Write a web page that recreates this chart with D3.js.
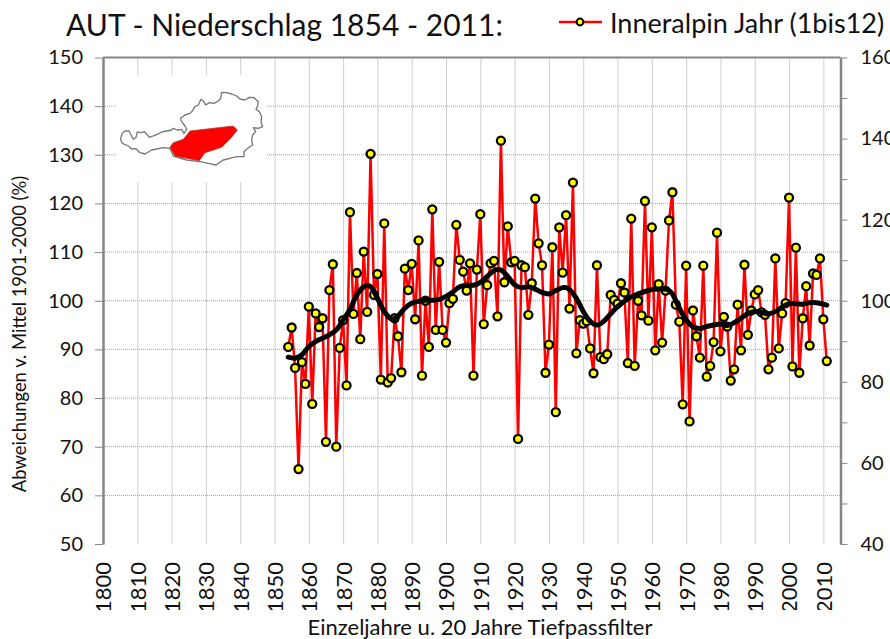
<!DOCTYPE html>
<html><head><meta charset="utf-8">
<script src="https://cdn.jsdelivr.net/npm/d3@7"></script>
<style>html,body{margin:0;padding:0;background:#fff;overflow:hidden}svg{display:block}text{font-family:Lato,"Open Sans",sans-serif;fill:#111}</style>
</head><body><svg id="c" width="890" height="639"></svg>
<script>
const startYear = 1854;
const annual = [90.5,94.5,86.2,65.4,87.4,82.9,98.8,78.8,97.4,94.6,96.4,71.0,102.2,107.5,70.0,90.3,96.0,82.6,118.2,97.3,
105.7,92.1,110.1,97.7,130.2,101.2,105.5,83.8,115.9,83.2,84.1,96.4,92.7,85.3,106.6,102.2,107.6,96.2,112.4,84.6,
100.0,90.5,118.8,94.0,108.0,94.0,91.4,99.5,100.4,115.6,108.4,106.0,102.1,107.7,84.6,106.4,117.8,95.2,103.2,107.7,
108.2,96.8,132.9,103.8,115.3,107.9,108.2,71.6,107.3,106.9,97.1,103.6,121.0,111.8,107.3,85.2,91.0,111.0,77.1,115.1,
105.8,117.6,98.4,124.3,89.2,96.0,95.3,95.8,90.2,85.1,107.3,88.4,88.0,89.0,101.2,100.2,99.4,103.6,101.7,87.2,
116.9,86.6,100.0,97.0,120.5,95.9,115.1,89.8,103.4,91.4,102.1,116.5,122.3,99.2,95.7,78.7,107.2,75.2,98.0,92.7,
88.3,107.2,84.4,86.6,91.5,114.0,89.6,96.7,94.7,83.6,85.9,99.2,89.8,107.4,93.0,98.0,101.3,102.2,97.6,97.1,
85.9,88.3,108.7,90.2,97.4,99.5,121.2,86.5,110.9,85.2,96.4,103.0,90.8,105.6,105.3,108.7,96.2,87.6];
const filterYears = [1854,1856,1858,1860,1862,1864,1866,1868,1870,1872,1874,1876,1877,1878,1880,1882,1884,1885,1886,1888,1890,1892,1894,1896,1898,1900,1902,1904,1906,1908,1910,1912,1914,1915,1916,1918,1920,1922,1924,1926,1928,1930,1932,1934,1935,1936,1938,1940,1942,1944,1946,1948,1950,1952,1954,1956,1958,1960,1962,1964,1965,1966,1968,1970,1972,1974,1976,1978,1980,1982,1984,1986,1988,1990,1992,1994,1996,1998,2000,2002,2004,2006,2008,2010,2011];
const filterValues = [88.4,88.2,88.9,90.6,91.6,92.3,93.0,94.0,96.0,98.2,101.2,102.9,103.2,102.9,100.5,97.8,96.3,96.3,96.8,98.5,99.5,99.9,100.1,100.1,100.3,100.9,101.8,102.9,103.2,103.2,103.8,105.0,106.2,106.4,106.3,105.0,103.3,102.7,102.9,102.4,101.7,101.4,102.1,102.7,102.7,102.3,100.5,97.8,95.8,95.0,95.8,97.3,98.8,99.9,100.8,101.4,101.9,102.3,102.4,102.4,102.1,101.4,98.5,96.1,94.6,94.3,94.7,95.0,95.2,94.9,95.5,96.4,97.4,97.8,97.6,97.3,97.8,98.7,99.4,99.4,99.3,99.6,99.6,99.3,99.1];
const xTicks = d3.range(1800, 2011, 10);
const leftTicks = d3.range(50, 151, 10);
const rightTicks = d3.range(40, 161, 10);
const rightLabels = [40,60,80,100,120,140,160];
const mapOutline = [[93,262],[97,250],[105,243],[117,243],[125,258],[130,268],[138,262],[142,246],[152,248],[163,245],[170,252],[178,262],[190,258],[205,252],[215,246],[230,243],[245,240],[250,235],[262,240],[275,238],[282,250],[290,238],[285,228],[275,215],[272,205],[285,195],[300,190],[308,182],[315,170],[325,165],[333,148],[342,155],[347,165],[358,158],[372,160],[385,153],[392,145],[395,127],[410,128],[425,132],[440,138],[450,147],[465,150],[478,142],[492,143],[505,155],[503,168],[498,178],[508,185],[515,200],[513,215],[518,230],[505,235],[490,233],[497,245],[488,255],[485,270],[488,285],[470,297],[462,305],[462,320],[440,320],[420,325],[400,330],[378,345],[355,340],[330,335],[290,330],[250,318],[240,295],[220,293],[200,297],[185,300],[165,312],[150,308],[138,296],[125,297],[115,288],[97,280],[92,270]];
const mapRegion = [[300,243],[430,228],[442,240],[425,262],[395,292],[345,308],[328,332],[290,325],[255,318],[240,292],[250,278],[280,268]];

const svg = d3.select("#c");
const L=103,R=840.5,T=57.5,B=544;
const x = d3.scaleLinear().domain([1800,2015]).range([L,R]);
const y = d3.scaleLinear().domain([50,150]).range([B,T]);
const y2 = d3.scaleLinear().domain([40,160]).range([B,T]);
const AX="#868686", FS=20;

svg.append("defs").append("clipPath").attr("id","xclip").append("rect").attr("x",0).attr("y",550).attr("width",890).attr("height",60);

// grid
const grid = svg.append("g").attr("stroke","#a0a0a0").attr("stroke-width",1).attr("stroke-dasharray","1 1");
grid.selectAll(".gx").data(xTicks.slice(1)).join("line").attr("x1",d=>x(d)+.5).attr("x2",d=>x(d)+.5).attr("y1",T).attr("y2",B);
grid.selectAll(".gy").data(leftTicks.slice(1,-1)).join("line").attr("x1",L).attr("x2",R).attr("y1",d=>y(d)).attr("y2",d=>y(d));

// map inset
svg.append("rect").attr("x",117).attr("y",75).attr("width",150).attr("height",107).attr("fill","#fff");
const map = svg.append("g").attr("transform","translate(90,50) scale(0.3333)").attr("stroke-linejoin","round");
const poly = d3.line().curve(d3.curveLinearClosed);
map.append("path").attr("d",poly(mapOutline)).attr("fill","#fff").attr("stroke","#777").attr("stroke-width",4);
map.append("path").attr("d",poly(mapRegion)).attr("fill","#fe0000").attr("stroke","#b04030").attr("stroke-width",2.5);

// axes
function style(g){g.selectAll(".domain").attr("stroke",AX).attr("stroke-width",2.5);g.selectAll(".tick line").attr("stroke",AX).attr("stroke-width",1);g.selectAll("text").attr("font-size",FS).attr("font-family","Lato,'Open Sans',sans-serif").attr("fill","#111");}
svg.append("line").attr("x1",L).attr("x2",R).attr("y1",T).attr("y2",T).attr("stroke",AX).attr("stroke-width",2);
svg.append("g").attr("transform",`translate(${L},0)`).call(d3.axisLeft(y).tickValues(leftTicks).tickSize(8).tickPadding(12).tickSizeOuter(0)).call(style);
svg.append("g").attr("transform",`translate(${R},0)`).call(d3.axisRight(y2).tickValues(rightTicks).tickSize(7).tickPadding(13).tickSizeOuter(0).tickFormat(d=>rightLabels.includes(d)?d:"")).call(style);
const xg = svg.append("g").attr("clip-path","url(#xclip)").append("g").attr("transform",`translate(0,${B})`).call(d3.axisBottom(x).tickValues(xTicks).tickSize(0).tickFormat(d3.format("d"))).call(style);
xg.selectAll("text").attr("font-size",22).attr("transform","rotate(-90)").attr("text-anchor","end").attr("x",-18).attr("y",0).attr("dy","0.36em");

// series
const series = annual.map((v,i)=>({year:startYear+i,v}));
const line = d3.line().x(d=>x(d.year)).y(d=>y(d.v));
svg.append("path").attr("d",line(series)).attr("fill","none").attr("stroke","#fe0000").attr("stroke-width",2.5).attr("stroke-linejoin","round");
svg.append("g").selectAll("circle").data(series).join("circle").attr("cx",d=>x(d.year)).attr("cy",d=>y(d.v)).attr("r",4).attr("fill","#ffff00").attr("stroke","#000").attr("stroke-width",2.3);
const fl = d3.line().x((d,i)=>x(filterYears[i])).y(d=>y(d)).curve(d3.curveCatmullRom);
svg.append("path").attr("d",fl(filterValues)).attr("fill","none").attr("stroke","#000").attr("stroke-width",5).attr("stroke-linecap","round");

// texts
svg.append("text").attr("x",66).attr("y",36).attr("font-size",30).text("AUT - Niederschlag 1854 - 2011:");
svg.append("line").attr("x1",559).attr("x2",602).attr("y1",22).attr("y2",22).attr("stroke","#fe0000").attr("stroke-width",2.5);
svg.append("circle").attr("cx",580).attr("cy",22).attr("r",3.4).attr("fill","#ffff00").attr("stroke","#000").attr("stroke-width",2);
svg.append("text").attr("x",610).attr("y",33).attr("font-size",27).text("Inneralpin Jahr (1bis12)");
svg.append("text").attr("transform","translate(26,334) rotate(-90)").attr("text-anchor","middle").attr("font-size",18.4).text("Abweichungen v. Mittel 1901-2000 (%)");
svg.append("text").attr("x",480).attr("y",635).attr("text-anchor","middle").attr("font-size",22).text("Einzeljahre u. 20 Jahre Tiefpassfilter");
</script></body></html>
